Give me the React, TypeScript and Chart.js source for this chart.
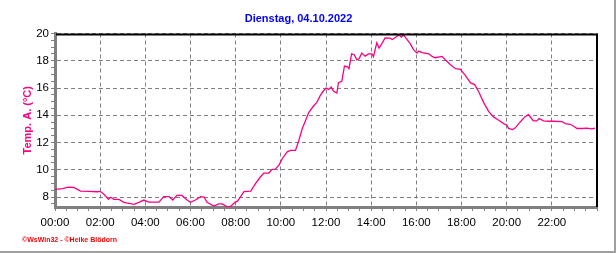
import { useEffect, useRef } from 'react';
import { Chart, registerables } from 'chart.js';

Chart.register(...registerables);

const chartTitle = 'Dienstag, 04.10.2022';
const yAxisTitle = 'Temp. A. (°C)';
const footerText = '©WsWin32 - ©Heike Blödorn';

const times = [
  '00:00','00:20','00:35','00:50','01:08','01:30','01:52','02:00','02:10','02:22',
  '02:28','02:36','02:50','03:03','03:30','03:43','03:56','04:09','04:36','04:49',
  '05:03','05:13','05:24','05:37','05:51','06:00','06:13','06:27','06:36','06:44',
  '07:02','07:15','07:24','07:37','07:46','07:59','08:05','08:15','08:22','08:40',
  '08:53','09:06','09:15','09:28','09:37','09:45','09:55','10:04','10:17','10:26',
  '10:39','10:48','10:57','11:06','11:14','11:27','11:36','11:45','11:53','12:00',
  '12:07','12:14','12:20','12:29','12:33','12:42','12:49','12:57','13:01','13:08',
  '13:15','13:22','13:28','13:35','13:44','13:53','14:02','14:06','14:15','14:21',
  '14:28','14:37','14:50','14:56','15:05','15:14','15:20','15:26','15:32','15:44',
  '15:53','16:02','16:06','16:15','16:33','16:42','16:50','17:08','17:19','17:30',
  '17:44','17:57','18:10','18:24','18:35','18:46','18:59','19:12','19:25','19:39',
  '19:52','20:01','20:05','20:16','20:23','20:36','20:48','20:58','21:05','21:11',
  '21:20','21:26','21:38','21:51','22:05','22:27','22:36','22:49','22:58','23:07',
  '23:20','23:33','23:45','23:55',
];

const temps = [
  8.57, 8.62, 8.73, 8.70, 8.44, 8.42, 8.39, 8.42, 8.2, 7.83,
  7.98, 7.83, 7.83, 7.61, 7.47, 7.61, 7.78, 7.63, 7.63, 8.03,
  8.03, 7.78, 8.12, 8.12, 7.78, 7.61, 7.78, 8.03, 8.0, 7.61,
  7.34, 7.5, 7.5, 7.30, 7.30, 7.63, 7.7, 8.1, 8.4, 8.44,
  9.0, 9.49, 9.76, 9.76, 10.03, 10.05, 10.34, 10.83, 11.32, 11.42,
  11.42, 12.17, 13.03, 13.64, 14.2, 14.68, 14.97, 15.46, 15.78, 16.0,
  15.9, 16.07, 15.76, 15.63, 16.39, 16.49, 17.61, 17.56, 17.42, 18.51,
  18.44, 18.07, 18.15, 18.56, 18.34, 18.5, 18.5, 18.3, 19.32, 18.93,
  19.24, 19.68, 19.66, 19.56, 19.73, 19.9, 19.73, 19.9, 19.68, 19.24,
  18.8, 18.56, 18.71, 18.6, 18.51, 18.32, 18.22, 18.32, 18.02, 17.73,
  17.42, 17.37, 16.93, 16.37, 16.25, 15.71, 14.93, 14.29, 13.88, 13.64,
  13.39, 13.27, 13.03, 12.95, 13.08, 13.51, 13.88, 14.05, 13.8, 13.59,
  13.59, 13.76, 13.59, 13.56, 13.56, 13.54, 13.39, 13.34, 13.2, 13.03,
  13.03, 13.05, 13.0, 13.05,
];

const xMinMinutes = 0;
const xMaxMinutes = 1440;
const xMinorStep = 30;
const xMajorStep = 120;
const yMin = 7.27;
const yMax = 20;
const yMinorStep = 0.5;
const yMajorStep = 2;

const toMinutes = (t: string) => {
  const [h, m] = t.split(':').map(Number);
  return h * 60 + m;
};
const fmtTime = (v: number) => {
  const h = Math.floor(v / 60);
  const m = v % 60;
  return String(h).padStart(2, '0') + ':' + String(m).padStart(2, '0');
};
const isMultiple = (v: number, step: number) => Math.abs(v - Math.round(v / step) * step) < 1e-6;

const LINE_COLOR = '#FF0080';
const GRID_COLOR = '#808080';
const FONT = '"Liberation Sans", Arial, sans-serif';

const framePlugin = {
  id: 'frame',
  afterDraw(chart: any) {
    const { ctx, chartArea } = chart;
    const { left, right, top, bottom } = chartArea;
    ctx.save();
    ctx.strokeStyle = '#000000';
    ctx.lineWidth = 2;
    ctx.beginPath();
    ctx.moveTo(left + 1, top + 1);
    ctx.lineTo(right, top + 1);
    ctx.lineTo(right, bottom);
    ctx.stroke();
    // outer frame
    ctx.fillStyle = '#A0A0A0';
    ctx.fillRect(chart.width - 2, 0, 2, chart.height);
    ctx.fillRect(0, chart.height - 2, chart.width, 2);
    // footer
    ctx.fillStyle = '#FF0000';
    ctx.font = 'bold 7px ' + FONT;
    ctx.textBaseline = 'alphabetic';
    ctx.textAlign = 'left';
    ctx.fillText(footerText, 22, 242);
    ctx.restore();
  },
};

export default function App() {
  const ref = useRef<HTMLCanvasElement | null>(null);

  useEffect(() => {
    if (!ref.current) return;
    const points = times.map((t, i) => ({ x: toMinutes(t), y: temps[i] }));
    const chart = new Chart(ref.current, {
      type: 'line',
      data: {
        datasets: [
          {
            data: points,
            borderColor: LINE_COLOR,
            borderWidth: 1.3,
            pointRadius: 0,
            tension: 0,
            fill: false,
          },
        ],
      },
      options: {
        animation: false,
        responsive: false,
        maintainAspectRatio: false,
        layout: { padding: { left: 0, right: 19, top: 0, bottom: 0 } },
        plugins: {
          legend: { display: false },
          tooltip: { enabled: false },
          title: {
            display: true,
            text: chartTitle,
            color: '#0000FF',
            font: { family: FONT, size: 11, weight: 'bold' },
            padding: { top: 12.5, bottom: 7.8 },
          },
        },
        scales: {
          x: {
            type: 'linear',
            min: xMinMinutes,
            max: xMaxMinutes,
            afterFit: (scale: any) => {
              scale.height = 46;
            },
            border: { display: true, color: GRID_COLOR, width: 3, dash: [4, 3] },
            grid: {
              color: (c: any) =>
                c.tick && isMultiple(c.tick.value, xMajorStep) ? GRID_COLOR : 'rgba(0,0,0,0)',
              tickColor: GRID_COLOR,
              tickLength: 4,
              tickBorderDash: [],
              lineWidth: 1,
            },
            ticks: {
              stepSize: xMinorStep,
              autoSkip: false,
              maxRotation: 0,
              padding: 5,
              color: '#000000',
              font: { family: FONT, size: 11.5 },
              callback: (v: any) => {
                const n = Number(v);
                return isMultiple(n, xMajorStep) && n < xMaxMinutes ? fmtTime(n) : '';
              },
            },
          },
          y: {
            type: 'linear',
            min: yMin,
            max: yMax,
            afterFit: (scale: any) => {
              scale.width = 55;
            },
            border: { display: true, color: GRID_COLOR, width: 3, dash: [4, 3] },
            grid: {
              color: (c: any) =>
                c.tick && isMultiple(c.tick.value, yMajorStep) ? GRID_COLOR : 'rgba(0,0,0,0)',
              tickColor: GRID_COLOR,
              tickLength: 4,
              tickBorderDash: [],
              lineWidth: 1,
            },
            title: {
              display: true,
              text: yAxisTitle,
              color: LINE_COLOR,
              font: { family: FONT, size: 11, weight: 'bold' },
              padding: { top: 21, bottom: 0 },
            },
            ticks: {
              stepSize: yMinorStep,
              includeBounds: false,
              autoSkip: false,
              padding: 2,
              color: '#000000',
              font: { family: FONT, size: 11.5 },
              callback: (v: any) => {
                const n = Number(v);
                return isMultiple(n, yMajorStep) ? String(Math.round(n)) : '';
              },
            },
          },
        },
      },
      plugins: [framePlugin],
    });
    return () => chart.destroy();
  }, []);

  return (
    <div style={{ position: 'fixed', left: 0, top: 0, width: 616, height: 253, background: '#FFFFFF' }}>
      <canvas ref={ref} width={616} height={253} style={{ width: 616, height: 253, display: 'block' }} />
    </div>
  );
}
